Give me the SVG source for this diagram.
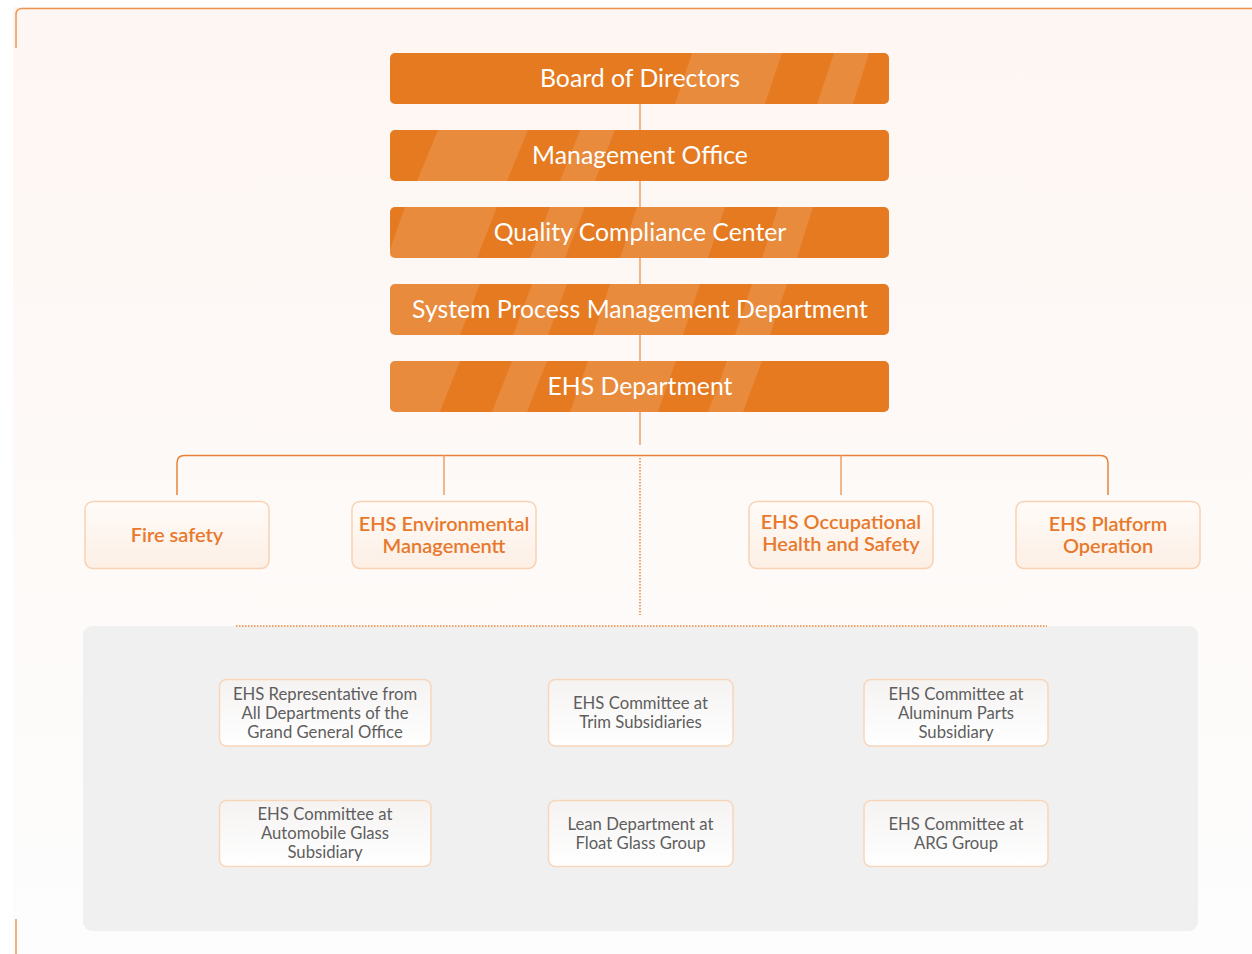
<svg xmlns="http://www.w3.org/2000/svg" width="1252" height="954" viewBox="0 0 1252 954">
<defs>
<linearGradient id="bg" x1="0" y1="0" x2="0" y2="1">
<stop offset="0" stop-color="#fef6f2"/>
<stop offset="1" stop-color="#fdfdfd"/>
</linearGradient>
<linearGradient id="og" x1="0" y1="0" x2="0" y2="1">
<stop offset="0" stop-color="#fffbf8"/>
<stop offset="1" stop-color="#fcefe5"/>
</linearGradient>
<linearGradient id="gg" x1="0" y1="0" x2="0" y2="1">
<stop offset="0" stop-color="#f5f3f2"/>
<stop offset="1" stop-color="#ffffff"/>
</linearGradient>
<clipPath id="c1"><rect x="390" y="53" width="499" height="51" rx="5"/></clipPath>
<clipPath id="c2"><rect x="390" y="130" width="499" height="51" rx="5"/></clipPath>
<clipPath id="c3"><rect x="390" y="207" width="499" height="51" rx="5"/></clipPath>
<clipPath id="c4"><rect x="390" y="284" width="499" height="51" rx="5"/></clipPath>
<clipPath id="c5"><rect x="390" y="361" width="499" height="51" rx="5"/></clipPath>
</defs>
<style>
.bar{fill:#e57a20}
.stripe{fill:#ffffff;fill-opacity:0.13}
.bt{font-family:Lato,"Liberation Sans",sans-serif;font-size:24.8px;fill:#ffffff;text-anchor:middle}
.ob{fill:url(#og);stroke:#f8d2b3;stroke-width:1.5}
.ot{font-family:Lato,"Liberation Sans",sans-serif;font-size:20px;font-weight:600;fill:#e8792c;text-anchor:middle}
.gb{fill:url(#gg);stroke:#f8d6bb;stroke-width:1.5}
.gt{font-family:Lato,"Liberation Sans",sans-serif;font-size:16.7px;fill:#5e5e5e;text-anchor:middle}
.ln{fill:none;stroke:#eca066;stroke-width:1.5}
.dot{fill:none;stroke:#f0873a;stroke-width:1.5;stroke-dasharray:1.5 1.5}
</style>
<rect x="0" y="0" width="1252" height="954" fill="#ffffff"/>
<rect x="13" y="7" width="1239" height="947" fill="url(#bg)"/>
<path d="M16,48 V14.5 Q16,8.5 22,8.5 H1252" fill="none" stroke="#ef9552" stroke-width="1.5"/>
<path d="M16,919 V954" fill="none" stroke="#ef9552" stroke-width="1.5"/>
<rect id="panel" x="83" y="626" width="1115" height="305" rx="9" fill="#f0f0f0"/>
<g id="connectors">
<path class="ln" d="M640,104 V445"/>
<path d="M177,495 V463 Q177,455.5 184.5,455.5 H1100.5 Q1108,455.5 1108,463 V495" fill="none" stroke="#e8823a" stroke-width="1.5"/>
<path class="ln" d="M444,455.5 V495"/>
<path class="ln" d="M841,455.5 V495"/>
<path class="dot" d="M640,458 V615"/>
<path class="dot" d="M236,626 H1047"/>
</g>
<g id="board">
<rect class="bar" x="390" y="53" width="499" height="51" rx="5"/>
<g clip-path="url(#c1)">
<polygon class="stripe" points="692,53 782,53 765,104 675,104"/>
<polygon class="stripe" points="834,53 869,53 853,104 817,104"/>
</g>
<text class="bt" x="640" y="87">Board of Directors</text>
</g>
<g id="management">
<rect class="bar" x="390" y="130" width="499" height="51" rx="5"/>
<g clip-path="url(#c2)">
<polygon class="stripe" points="438,130 528,130 507,181 417,181"/>
<polygon class="stripe" points="580,130 615,130 595,181 560,181"/>
</g>
<text class="bt" x="640" y="164">Management Office</text>
</g>
<g id="quality">
<rect class="bar" x="390" y="207" width="499" height="51" rx="5"/>
<g clip-path="url(#c3)">
<polygon class="stripe" points="405,207 497,207 477,258 387,258"/>
<polygon class="stripe" points="550,207 585,207 565,258 530,258"/>
<polygon class="stripe" points="637,207 725,207 708,258 620,258"/>
<polygon class="stripe" points="778,207 813,207 797,258 762,258"/>
</g>
<text class="bt" x="640" y="241">Quality Compliance Center</text>
</g>
<g id="system">
<rect class="bar" x="390" y="284" width="499" height="51" rx="5"/>
<g clip-path="url(#c4)">
<polygon class="stripe" points="370,284 480,284 460,335 350,335"/>
<polygon class="stripe" points="532,284 567,284 548,335 513,335"/>
<polygon class="stripe" points="610,284 700,284 683,335 593,335"/>
<polygon class="stripe" points="752,284 787,284 770,335 735,335"/>
</g>
<text class="bt" x="640" y="318">System Process Management Department</text>
</g>
<g id="ehs">
<rect class="bar" x="390" y="361" width="499" height="51" rx="5"/>
<g clip-path="url(#c5)">
<polygon class="stripe" points="370,361 460,361 440,412 350,412"/>
<polygon class="stripe" points="512,361 547,361 527,412 492,412"/>
<polygon class="stripe" points="588,361 676,361 658,412 570,412"/>
<polygon class="stripe" points="727,361 762,361 743,412 708,412"/>
</g>
<text class="bt" x="640" y="395">EHS Department</text>
</g>
<g id="fire">
<rect class="ob" x="85" y="501.5" width="184" height="67" rx="8"/>
<text class="ot" x="177" y="542">Fire safety</text>
</g>
<g id="env">
<rect class="ob" x="352" y="501.5" width="184" height="67" rx="8"/>
<text class="ot" x="444" y="531">EHS Environmental</text>
<text class="ot" x="444" y="553">Managementt</text>
</g>
<g id="occ">
<rect class="ob" x="749" y="501.5" width="184" height="67" rx="8"/>
<text class="ot" x="841" y="529">EHS Occupational</text>
<text class="ot" x="841" y="551">Health and Safety</text>
</g>
<g id="platform">
<rect class="ob" x="1016" y="501.5" width="184" height="67" rx="8"/>
<text class="ot" x="1108" y="531">EHS Platform</text>
<text class="ot" x="1108" y="553">Operation</text>
</g>
<g id="rep">
<rect class="gb" x="219.5" y="679.5" width="211.5" height="66.5" rx="7"/>
<text class="gt" x="325" y="700">EHS Representative from</text>
<text class="gt" x="325" y="719">All Departments of the</text>
<text class="gt" x="325" y="738">Grand General Office</text>
</g>
<g id="trim">
<rect class="gb" x="548.5" y="679.5" width="184.5" height="66.5" rx="7"/>
<text class="gt" x="640.5" y="709">EHS Committee at</text>
<text class="gt" x="640.5" y="728">Trim Subsidiaries</text>
</g>
<g id="aluminum">
<rect class="gb" x="864" y="679.5" width="184" height="66.5" rx="7"/>
<text class="gt" x="956" y="700">EHS Committee at</text>
<text class="gt" x="956" y="719">Aluminum Parts</text>
<text class="gt" x="956" y="738">Subsidiary</text>
</g>
<g id="auto">
<rect class="gb" x="219.5" y="800.5" width="211.5" height="66" rx="7"/>
<text class="gt" x="325" y="820">EHS Committee at</text>
<text class="gt" x="325" y="839">Automobile Glass</text>
<text class="gt" x="325" y="858">Subsidiary</text>
</g>
<g id="lean">
<rect class="gb" x="548.5" y="800.5" width="184.5" height="66" rx="7"/>
<text class="gt" x="640.5" y="830">Lean Department at</text>
<text class="gt" x="640.5" y="849">Float Glass Group</text>
</g>
<g id="arg">
<rect class="gb" x="864" y="800.5" width="184" height="66" rx="7"/>
<text class="gt" x="956" y="830">EHS Committee at</text>
<text class="gt" x="956" y="849">ARG Group</text>
</g>
</svg>
